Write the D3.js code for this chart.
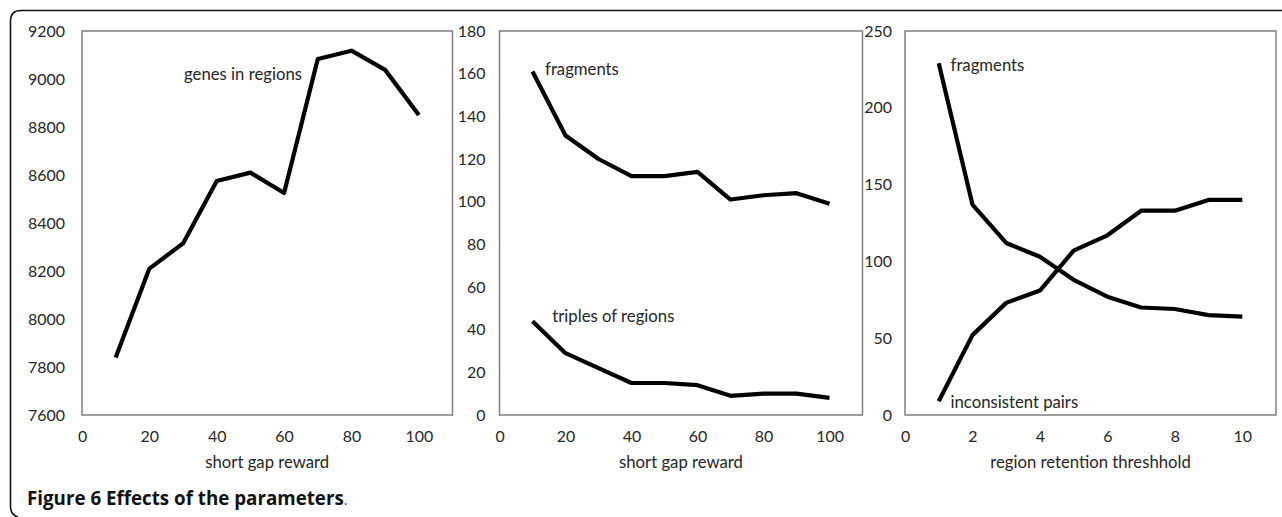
<!DOCTYPE html>
<html>
<head>
<meta charset="utf-8">
<script src="https://cdn.jsdelivr.net/npm/d3@7"></script>
<style>
  html, body { margin: 0; padding: 0; background: #fff; }
  svg { display: block; }
</style>
</head>
<body>
<svg id="chart" width="1282" height="517"></svg>
<script>
// ---------- data ----------
const gapReward = [10, 20, 30, 40, 50, 60, 70, 80, 90, 100];
const genesInRegions = [7840, 8210, 8315, 8575, 8610, 8525, 9083, 9118, 9038, 8850];

const fragmentsGap = [161, 131, 120, 112, 112, 114, 101, 103, 104, 99];
const triplesGap = [44, 29, 22, 15, 15, 14, 9, 10, 10, 8];

const retention = [1, 2, 3, 4, 5, 6, 7, 8, 9, 10];
const fragmentsRet = [229, 137, 112, 103, 88, 77, 70, 69, 65, 64];
const inconsistentRet = [9, 52, 73, 81, 107, 117, 133, 133, 140, 140];

const ticksX1 = [0, 20, 40, 60, 80, 100];
const ticksX3 = [0, 2, 4, 6, 8, 10];
const ticksY1 = [7600, 7800, 8000, 8200, 8400, 8600, 8800, 9000, 9200];
const ticksY2 = [0, 20, 40, 60, 80, 100, 120, 140, 160, 180];
const ticksY3 = [0, 50, 100, 150, 200, 250];

const xTitles = ["short gap reward", "short gap reward", "region retention threshhold"];
const caption = "Figure 6 Effects of the parameters";

// ---------- layout ----------
const svg = d3.select("#chart");
const plotTop = 31, plotBottom = 415;
const FONT = "Lato, 'Open Sans', sans-serif";
const CAPFONT = "'Open Sans', sans-serif";

// font sizes fitted to text widths measured in the reference
function fitSize(str, family, weight, target) {
  const t = svg.append("text").attr("font-family", family).attr("font-weight", weight)
    .attr("font-size", 20).text(str);
  const w = t.node().getBBox().width;
  t.remove();
  return 20 * target / w;
}
const FS_TICK = fitSize("9200", FONT, "normal", 37);
const FS = fitSize("genes in regions", FONT, "normal", 118);
const FS_CAP = fitSize(caption, CAPFONT, "bold", 317);

const panels = [
  { left: 82, right: 452.5, xDomain: [0, 110], xTicks: ticksX1, yDomain: [7600, 9200], yTicks: ticksY1, labelGap: 17,
    title: xTitles[0],
    series: [{ x: gapReward, y: genesInRegions }],
    notes: [{ text: "genes in regions", x: 30.3, y: 8996 }] },
  { left: 499.5, right: 862.5, xDomain: [0, 110], xTicks: ticksX1, yDomain: [0, 180], yTicks: ticksY2, labelGap: 14,
    title: xTitles[1],
    series: [{ x: gapReward, y: fragmentsGap }, { x: gapReward, y: triplesGap }],
    notes: [{ text: "fragments", x: 13.8, y: 159.4 }, { text: "triples of regions", x: 16, y: 43.7 }] },
  { left: 905, right: 1276, xDomain: [0, 11], xTicks: ticksX3, yDomain: [0, 250], yTicks: ticksY3, labelGap: 13,
    title: xTitles[2],
    series: [{ x: retention, y: fragmentsRet }, { x: retention, y: inconsistentRet }],
    notes: [{ text: "fragments", x: 1.35, y: 224 }, { text: "inconsistent pairs", x: 1.35, y: 4.6 }] }
];

// outer rounded frame (open on the right and bottom)
svg.append("path")
  .attr("d", "M1282,10.5 L21,10.5 Q10.5,10.5 10.5,21 L10.5,506 Q10.5,515 18,517")
  .attr("fill", "none").attr("stroke", "#111").attr("stroke-width", 1.6);

const textColor = "#262626";

panels.forEach(p => {
  const x = d3.scaleLinear().domain(p.xDomain).range([p.left, p.right]);
  const y = d3.scaleLinear().domain(p.yDomain).range([plotBottom, plotTop]);
  const g = svg.append("g");

  g.append("rect")
    .attr("x", p.left).attr("y", plotTop)
    .attr("width", p.right - p.left).attr("height", plotBottom - plotTop)
    .attr("fill", "none").attr("stroke", "#7f7f7f").attr("stroke-width", 1.5);

  const ya = g.append("g")
    .attr("transform", `translate(${p.left - p.labelGap},0)`)
    .call(d3.axisLeft(y).tickValues(p.yTicks).tickSize(0).tickPadding(0).tickFormat(d3.format("d")));
  ya.select(".domain").remove();
  ya.selectAll("text").attr("font-size", FS_TICK).attr("fill", textColor).attr("font-family", FONT);

  const xa = g.append("g")
    .attr("transform", `translate(0,${plotBottom + 16})`)
    .call(d3.axisBottom(x).tickValues(p.xTicks).tickSize(0).tickPadding(0).tickFormat(d3.format("d")));
  xa.select(".domain").remove();
  xa.selectAll("text").attr("font-size", FS_TICK).attr("fill", textColor).attr("font-family", FONT);

  g.append("text")
    .attr("x", (p.left + p.right) / 2).attr("y", 468)
    .attr("text-anchor", "middle").attr("font-size", FS).attr("fill", textColor)
    .attr("font-family", FONT)
    .text(p.title);

  const line = d3.line().x(d => x(d[0])).y(d => y(d[1]));
  p.series.forEach(s => {
    g.append("path")
      .datum(s.x.map((v, i) => [v, s.y[i]]))
      .attr("d", line)
      .attr("fill", "none").attr("stroke", "#000").attr("stroke-width", 4.2)
      .attr("stroke-linejoin", "round");
  });

  p.notes.forEach(n => {
    g.append("text")
      .attr("x", x(n.x)).attr("y", y(n.y))
      .attr("font-size", FS).attr("fill", textColor).attr("font-family", FONT)
      .text(n.text);
  });
});

// caption
const cap = svg.append("text").attr("x", 27).attr("y", 505).attr("font-size", FS_CAP)
  .attr("fill", "#111").attr("font-family", CAPFONT);
cap.append("tspan").attr("font-weight", "bold").text(caption);
cap.append("tspan").attr("font-size", FS_CAP * 0.75).attr("fill", "#333").text(".");
</script>
</body>
</html>
